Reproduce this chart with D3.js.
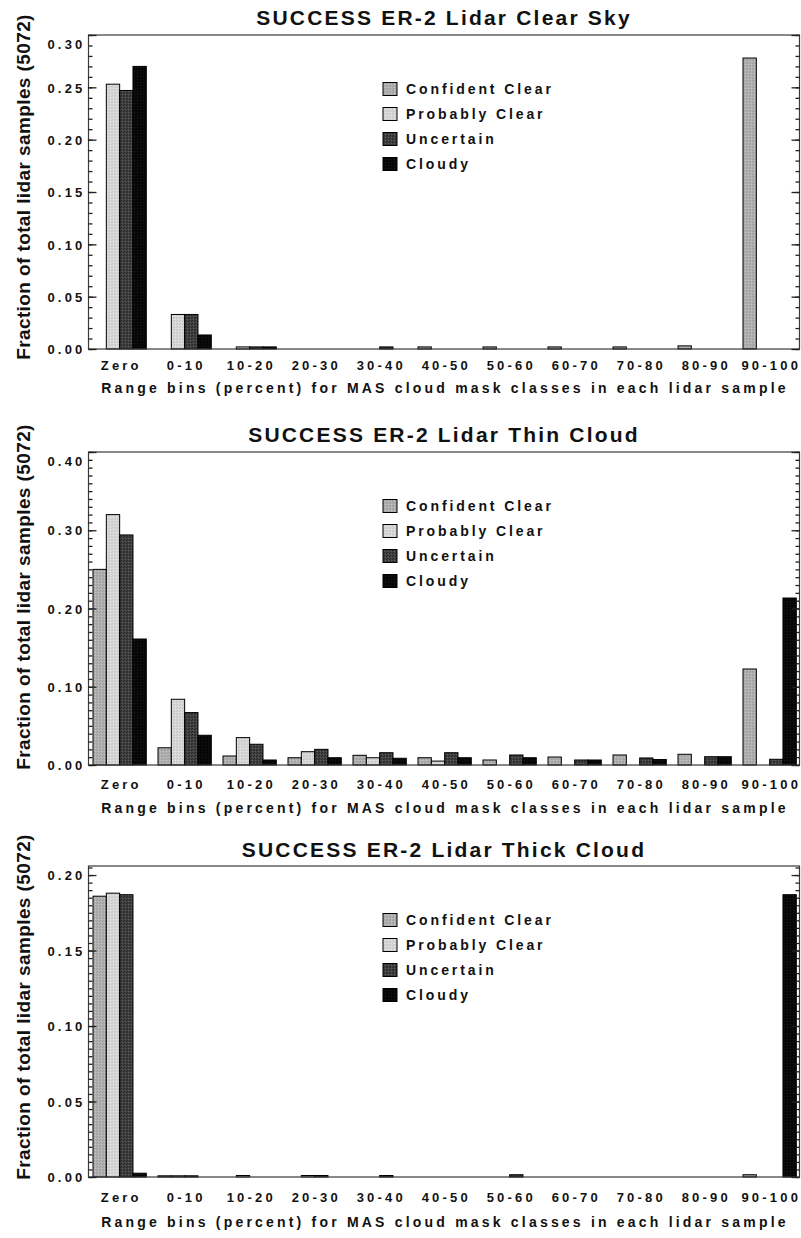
<!DOCTYPE html>
<html>
<head>
<meta charset="utf-8">
<script src="https://cdn.jsdelivr.net/npm/d3@7"></script>
<style>
  html, body { margin: 0; padding: 0; background: #ffffff; }
  svg { display: block; }
  text { font-family: "Liberation Sans", Arial, sans-serif; font-weight: bold; fill: #111; }
</style>
</head>
<body>
<svg id="chart" width="801" height="1238"></svg>
<script>
// Range bins (percent of MAS cloud-mask pixels of a class inside each lidar sample)
const categories = ["Zero", "0-10", "10-20", "20-30", "30-40", "40-50", "50-60", "60-70", "70-80", "80-90", "90-100"];
const seriesNames = ["Confident Clear", "Probably Clear", "Uncertain", "Cloudy"];

// Lidar clear sky samples
const clearConfident = [0, 0, 0, 0, 0, 0.002, 0.002, 0.002, 0.002, 0.003, 0.278];
const clearProbably  = [0.253, 0.033, 0.002, 0, 0, 0, 0, 0, 0, 0, 0];
const clearUncertain = [0.247, 0.033, 0.002, 0, 0.002, 0, 0, 0, 0, 0, 0];
const clearCloudy    = [0.270, 0.0134, 0.002, 0, 0, 0, 0, 0, 0, 0, 0];

// Lidar thin cloud samples
const thinConfident = [0.250, 0.022, 0.0115, 0.0093, 0.0124, 0.0093, 0.0064, 0.0102, 0.0128, 0.0137, 0.1227];
const thinProbably  = [0.320, 0.084, 0.035, 0.017, 0.0093, 0.005, 0, 0, 0, 0, 0];
const thinUncertain = [0.294, 0.067, 0.0265, 0.020, 0.0157, 0.0157, 0.0128, 0.0064, 0.009, 0.0106, 0.0073];
const thinCloudy    = [0.161, 0.038, 0.0064, 0.0093, 0.0086, 0.0093, 0.0093, 0.0064, 0.007, 0.0106, 0.2134];

// Lidar thick cloud samples
const thickConfident = [0.186, 0.0008, 0, 0, 0, 0, 0, 0, 0, 0, 0.0015];
const thickProbably  = [0.188, 0.0008, 0.001, 0.001, 0, 0, 0, 0, 0, 0, 0];
const thickUncertain = [0.187, 0.0008, 0, 0.001, 0.001, 0, 0.0015, 0, 0, 0, 0];
const thickCloudy    = [0.0025, 0, 0, 0, 0, 0, 0, 0, 0, 0, 0.187];

const panelTitles = ["SUCCESS ER-2 Lidar Clear Sky", "SUCCESS ER-2 Lidar Thin Cloud", "SUCCESS ER-2 Lidar Thick Cloud"];
const panelSeries = [
  [clearConfident, clearProbably, clearUncertain, clearCloudy],
  [thinConfident, thinProbably, thinUncertain, thinCloudy],
  [thickConfident, thickProbably, thickUncertain, thickCloudy]
];
const yDomainMax = [0.30, 0.40, 0.206];
const yMajorTicks = [
  [0, 0.05, 0.10, 0.15, 0.20, 0.25, 0.30],
  [0, 0.10, 0.20, 0.30, 0.40],
  [0, 0.05, 0.10, 0.15, 0.20]
];
const yMinorStep = [0.01, 0.01, 0.005];
const yAxisTitle = "Fraction of total lidar samples (5072)";
const xAxisTitle = "Range bins (percent) for MAS cloud mask classes in each lidar sample";

// Page geometry of the three stacked panels
const frameLeft = 88.5, frameRight = 799.5;
const layout = [
  { titleY: 25,  top: 35,  bottom: 349,  tickLabelY: 365,  xTitleY: 388,  yTitleY: 187 },
  { titleY: 442, top: 452, bottom: 765,  tickLabelY: 784,  xTitleY: 808,  yTitleY: 597 },
  { titleY: 857, top: 866, bottom: 1177, tickLabelY: 1197, xTitleY: 1222, yTitleY: 1007 }
];

const svg = d3.select("#chart");

// Stippled fills that give the bars their printed texture
const defs = svg.append("defs");
const fills = [
  { id: "fillConfident", base: "#b0b0b0", a: "#9a9a9a", b: "#c2c2c2" },
  { id: "fillProbably",  base: "#d6d6d6", a: "#c6c6c6", b: "#e6e6e6" },
  { id: "fillUncertain", base: "#404040", a: "#262626", b: "#5e5e5e" },
  { id: "fillCloudy",    base: "#0a0a0a", a: "#000000", b: "#141414" }
];
fills.forEach(f => {
  const p = defs.append("pattern").attr("id", f.id).attr("patternUnits", "userSpaceOnUse")
    .attr("width", 3).attr("height", 3);
  p.append("rect").attr("width", 3).attr("height", 3).attr("fill", f.base);
  p.append("rect").attr("x", 0).attr("y", 0).attr("width", 1).attr("height", 1).attr("fill", f.a);
  p.append("rect").attr("x", 2).attr("y", 1).attr("width", 1).attr("height", 1).attr("fill", f.b);
  p.append("rect").attr("x", 1).attr("y", 2).attr("width", 1).attr("height", 1).attr("fill", f.a);
});
const color = d3.scaleOrdinal().domain(seriesNames).range(fills.map(f => `url(#${f.id})`));

const x = d3.scaleBand().domain(categories).range([93, 796.3]).paddingInner(0.18).paddingOuter(0);
const xi = d3.scaleBand().domain(seriesNames).range([0, x.bandwidth()]);

layout.forEach((L, pi) => {
  const g = svg.append("g");
  const y = d3.scaleLinear().domain([0, yDomainMax[pi]]).range([L.bottom, L.top]);

  // Title
  g.append("text").attr("x", 444).attr("y", L.titleY).attr("text-anchor", "middle")
    .style("font-size", "21px").style("letter-spacing", "2.2px").text(panelTitles[pi]);

  // Bars
  const rows = categories.map((c, ci) => ({ cat: c, vals: seriesNames.map((s, si) => ({ s, v: panelSeries[pi][si][ci] })) }));
  const grp = g.selectAll("g.grp").data(rows).join("g").attr("class", "grp")
    .attr("transform", d => `translate(${x(d.cat)},0)`);
  grp.selectAll("rect").data(d => d.vals).join("rect")
    .attr("x", d => xi(d.s))
    .attr("width", xi.bandwidth())
    .attr("y", d => y(d.v))
    .attr("height", d => L.bottom - y(d.v))
    .attr("fill", d => color(d.s))
    .attr("stroke", "#000").attr("stroke-width", 1);

  // Frame
  g.append("rect").attr("x", frameLeft).attr("y", L.top)
    .attr("width", frameRight - frameLeft).attr("height", L.bottom - L.top)
    .attr("fill", "none").attr("stroke", "#3a3a3a").attr("stroke-width", 1.2);

  // Minor ticks, left and right, pointing into the plot
  const minors = d3.range(0, yDomainMax[pi] + 1e-9, yMinorStep[pi]);
  const minorLeft = g.append("g").attr("transform", `translate(${frameLeft},0)`)
    .call(d3.axisLeft(y).tickValues(minors).tickSizeInner(-4).tickSizeOuter(0).tickFormat(""));
  const minorRight = g.append("g").attr("transform", `translate(${frameRight},0)`)
    .call(d3.axisLeft(y).tickValues(minors).tickSizeInner(4).tickSizeOuter(0).tickFormat(""));

  // Major ticks with labels
  const majorLeft = g.append("g").attr("transform", `translate(${frameLeft},0)`)
    .call(d3.axisLeft(y).tickValues(yMajorTicks[pi]).tickSizeInner(-8).tickSizeOuter(0)
      .tickPadding(3).tickFormat(d3.format(".2f")));
  const majorRight = g.append("g").attr("transform", `translate(${frameRight},0)`)
    .call(d3.axisLeft(y).tickValues(yMajorTicks[pi]).tickSizeInner(8).tickSizeOuter(0).tickFormat(""));

  [minorLeft, minorRight, majorLeft, majorRight].forEach(a => {
    a.select(".domain").remove();
    a.selectAll(".tick line").attr("stroke", "#222").attr("stroke-width", 1.3);
  });
  majorLeft.selectAll(".tick text")
    .style("font-size", "13px").style("letter-spacing", "3.2px").attr("fill", "#111")
    .attr("font-family", null)
    .attr("dy", "0.36em")
    .each(function (d) {
      // keep the top label inside the frame height
      const shift = Math.max(0, (L.top + 9) - y(d));
      d3.select(this).attr("y", shift);
    });

  // Category labels
  g.selectAll("text.cat").data(categories).join("text").attr("class", "cat")
    .attr("x", d => x(d) + x.bandwidth() / 2 + 1.6).attr("y", L.tickLabelY).attr("dy", "0.36em")
    .attr("text-anchor", "middle")
    .style("font-size", "13px").style("letter-spacing", "3.2px").text(d => d);

  // Axis titles
  g.append("text").attr("x", 445).attr("y", L.xTitleY).attr("dy", "0.36em").attr("text-anchor", "middle")
    .style("font-size", "14px").style("letter-spacing", "3.2px").text(xAxisTitle);
  g.append("text").attr("transform", `translate(23,${L.yTitleY}) rotate(-90)`).attr("dy", "0.36em")
    .attr("text-anchor", "middle").style("font-size", "19px").style("letter-spacing", "0.4px").text(yAxisTitle);

  // Legend
  const leg = g.selectAll("g.leg").data(seriesNames).join("g").attr("class", "leg")
    .attr("transform", (d, i) => `translate(383,${L.top + 54 + i * 25})`);
  leg.append("rect").attr("x", 0).attr("y", -6.5).attr("width", 14).attr("height", 13)
    .attr("fill", d => color(d)).attr("stroke", "#000").attr("stroke-width", 1);
  leg.append("text").attr("x", 23).attr("dy", "0.36em")
    .style("font-size", "14px").style("letter-spacing", "2.9px").text(d => d);
});
</script>
</body>
</html>
